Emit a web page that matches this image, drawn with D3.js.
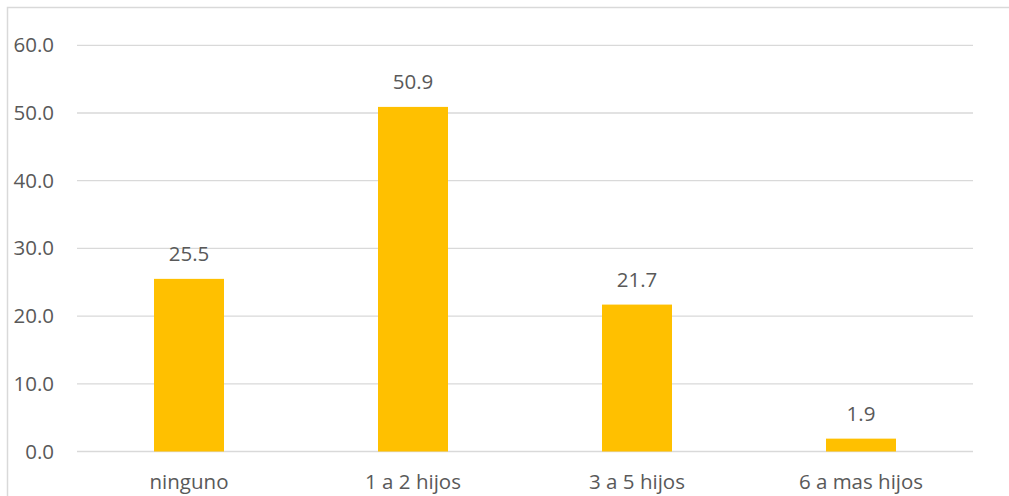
<!DOCTYPE html>
<html>
<head>
<meta charset="utf-8">
<script src="https://cdn.jsdelivr.net/npm/d3@7"></script>
<style>
  html, body { margin: 0; padding: 0; background: #fff; }
  svg { display: block; }
  text { font-family: "Open Sans", "Noto Sans", sans-serif; fill: #595959; }
</style>
</head>
<body>
<script>
const categories = ["ninguno", "1 a 2 hijos", "3 a 5 hijos", "6 a mas hijos"];
const values = [25.5, 50.9, 21.7, 1.9];
const yTicks = [0, 10, 20, 30, 40, 50, 60];

const W = 1009, H = 496;
const FS = 20.5;
const svg = d3.select("body").append("svg").attr("width", W).attr("height", H);

// chart border
svg.append("path")
  .attr("d", `M7.5,${H} V7.5 H${W}`)
  .attr("fill", "none").attr("stroke", "#d9d9d9").attr("stroke-width", 1.5);

const x = d3.scaleBand().domain(categories).range([77, 973]).paddingInner(0.6875).paddingOuter(0.34375);
const y = d3.scaleLinear().domain([0, 60]).range([451.5, 45.3]);

// gridlines
svg.append("g").selectAll("line").data(yTicks).join("line")
  .attr("x1", 77).attr("x2", 973)
  .attr("y1", d => y(d)).attr("y2", d => y(d))
  .attr("stroke", "#d9d9d9").attr("stroke-width", 1.3);

// y axis labels
const yAxis = d3.axisLeft(y).tickValues(yTicks).tickFormat(d3.format(".1f")).tickSize(0).tickPadding(0);
const ya = svg.append("g").attr("transform", "translate(54,0)").call(yAxis);
ya.select(".domain").remove();
ya.selectAll("text").attr("font-size", FS).attr("fill", "#595959")
  .style("font-family", '"Open Sans", "Noto Sans", sans-serif');

// bars
svg.append("g").selectAll("rect").data(values).join("rect")
  .attr("x", (d, i) => x(categories[i]))
  .attr("width", x.bandwidth())
  .attr("y", d => y(d))
  .attr("height", d => y(0) - y(d))
  .attr("fill", "#FFC000");

// data labels
svg.append("g").selectAll("text").data(values).join("text")
  .attr("x", (d, i) => x(categories[i]) + x.bandwidth() / 2)
  .attr("y", d => y(d) - 17.5)
  .attr("text-anchor", "middle")
  .attr("font-size", FS)
  .text(d => d3.format(".1f")(d));

// x axis labels
const xAxis = d3.axisBottom(x).tickSize(0).tickPadding(0);
const xa = svg.append("g").attr("transform", "translate(0,489)").call(xAxis);
xa.select(".domain").remove();
xa.selectAll("text").attr("y", 0).attr("dy", 0).attr("font-size", FS).attr("fill", "#595959")
  .style("font-family", '"Open Sans", "Noto Sans", sans-serif');
</script>
</body>
</html>
